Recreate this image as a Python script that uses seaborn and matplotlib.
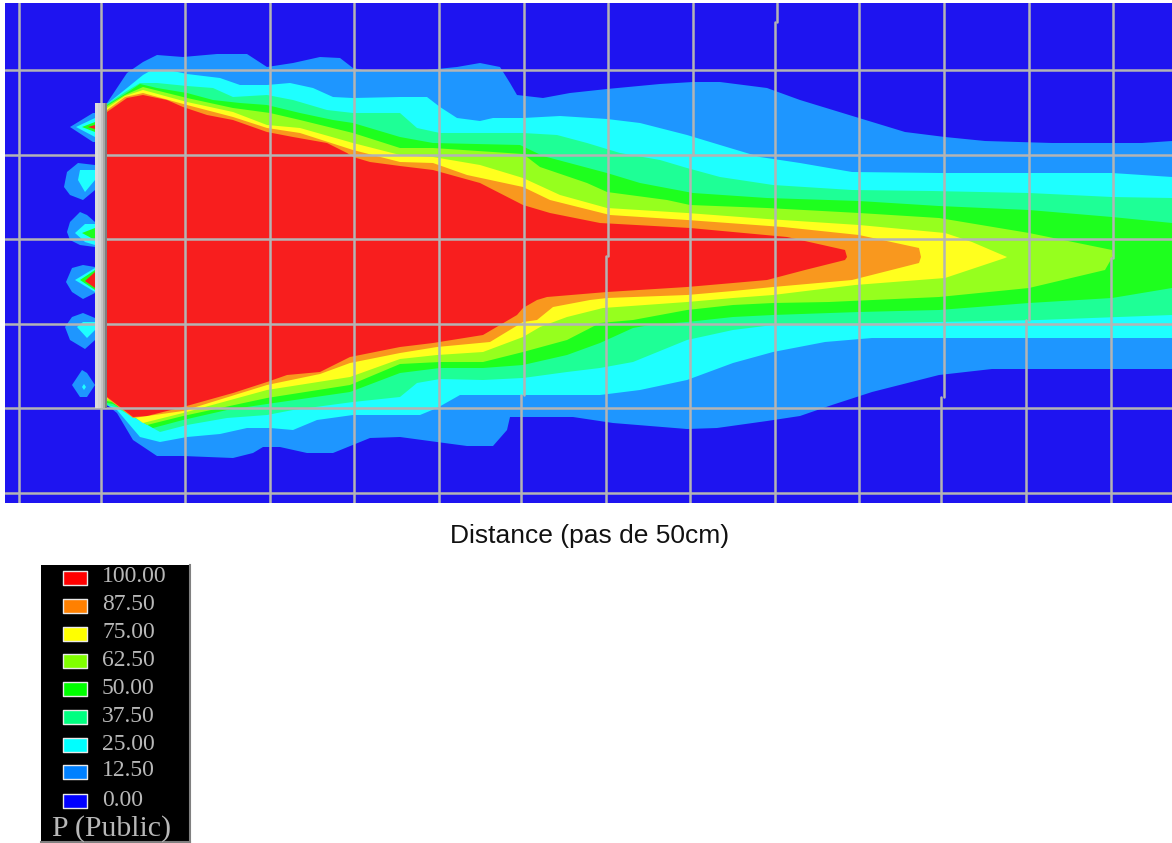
import matplotlib
matplotlib.use('Agg')
import matplotlib.pyplot as plt
from matplotlib.path import Path
import numpy as np
import seaborn as sns

# contour edges, in picture scale (84.4 units = one 50 cm step)
top_12_x = [107,127,143,157,183,217,247,267,293,320,340,353,367,400,417,457,480,500,510,517,543,570,607,660,693,720,767,800,859,905,945,985,1052,1142,1172]
top_12_y = [103,73,62,55,57,54,54,67,63,57,58,68,71,71,71,67,63,67,83,95,98,93,89,84,82,82,88,100,118,132,137,141,143,143,141]
bot_12_x = [107,117,133,157,183,233,253,263,280,307,333,370,400,437,467,493,507,510,573,613,687,717,767,800,832,872,939,992,1172]
bot_12_y = [405,413,440,456,456,458,453,447,447,453,453,438,437,442,446,446,430,417,417,423,429,428,421,416,405,392,375,369,369]

top_25_x = [107,127,143,150,173,187,220,240,267,290,313,333,353,400,427,440,457,480,493,523,560,607,640,687,720,760,800,852,939,1112,1172]
top_25_y = [104,88,75,71,71,74,78,85,85,83,88,97,98,97,97,107,118,121,118,118,116,119,123,135,145,157,163,172,173,173,177]
bot_25_x = [107,117,140,160,187,220,247,270,293,317,353,400,420,437,460,517,600,640,687,733,773,825,872,1172]
bot_25_y = [405,410,437,442,437,434,428,428,430,420,415,415,415,408,395,395,395,390,380,363,352,342,338,338]

top_37_x = [107,125,140,157,187,213,233,267,293,327,353,400,417,440,523,557,587,620,660,687,720,773,852,932,1029,1112,1172]
top_37_y = [104,92,83,83,86,88,97,95,100,110,113,113,128,133,133,135,143,153,160,168,177,185,190,191,193,197,198]
bot_37_x = [107,115,160,187,227,267,293,353,400,417,440,483,523,567,600,633,687,733,773,939,1039,1172]
bot_37_y = [405,407,432,425,418,415,410,402,397,383,379,380,378,372,368,362,340,330,325,322,320,315]

top_50_x = [107,125,140,157,187,213,240,267,300,333,353,400,433,520,543,607,640,693,767,859,939,1029,1112,1172]
top_50_y = [105,94,84,88,93,100,103,105,113,120,123,137,143,145,156,173,183,193,198,201,206,210,217,223]
bot_50_x = [107,113,153,183,227,267,350,400,440,483,523,567,600,633,650,687,733,773,859,939,1029,1112,1172]
bot_50_y = [403,404,428,420,410,404,392,373,368,368,365,355,343,328,325,322,317,315,312,310,303,298,288]

top_62_x = [107,125,143,187,233,270,300,353,400,433,523,540,587,607,667,690,767,859,939,1029,1112,1113]
top_62_y = [106,95,87,98,108,113,120,133,148,148,154,167,183,192,200,205,208,213,218,233,250,256]
bot_62_x = [107,112,147,183,267,350,400,440,483,523,567,600,633,687,733,773,829,939,1029,1105,1113]
bot_62_y = [401,402,425,416,398,385,364,362,362,352,340,323,320,310,305,303,302,297,288,270,256]

top_75_x = [107,125,143,187,233,267,300,353,400,433,480,523,560,607,687,767,859,945,972,1007]
top_75_y = [108,96,90,102,112,125,128,143,155,157,165,178,195,208,213,219,225,233,242,257]
bot_75_x = [107,110,143,183,267,350,400,437,483,523,540,567,603,687,733,773,855,945,1005,1007]
bot_75_y = [399,400,423,413,390,377,359,355,352,337,327,317,308,302,298,295,285,278,258,257]

top_87_x = [107,125,143,187,233,267,300,353,400,433,467,523,550,610,687,783,859,919,921]
top_87_y = [110,97,93,105,117,128,133,150,162,163,175,187,200,215,220,227,235,248,257]
bot_87_x = [107,133,183,267,320,350,400,437,490,523,537,553,590,607,687,733,773,852,919,921]
bot_87_y = [398,418,411,385,374,363,353,347,342,322,320,307,300,298,295,291,287,280,263,257]

top_100_x = [107,127,143,167,183,207,233,267,293,327,347,353,370,400,433,480,523,550,600,690,787,845,847]
top_100_y = [112,98,95,100,107,115,120,132,137,143,153,157,162,166,170,183,205,213,223,228,237,250,257]
bot_100_x = [107,133,147,183,233,267,287,320,350,400,433,483,517,523,537,547,607,687,733,767,805,845,847]
bot_100_y = [397,417,416,407,393,382,375,372,357,347,343,335,315,308,300,297,292,287,283,280,270,260,257]

# small cells left of the wall
cell_1_12 = ([70,93,95,95,93], [127,113,113,142,142])
cell_1_25 = ([76,95,95], [127,118,137])
cell_1_50 = ([82,95,95], [127,122,132])
cell_1_100 = ([88,95,95], [127,125,129])
cell_2_12 = ([64,67,78,95,95,83,70], [187,172,163,165,190,200,195])
cell_2_25 = ([78,80,95,95,85], [180,170,170,180,192])
cell_3_12 = ([67,70,80,87,95,95,80,70], [232,222,212,215,222,247,245,240])
cell_3_25 = ([75,85,95,95,85], [233,224,224,245,242])
cell_3_50 = ([82,95,95], [233,228,240])
cell_4_12 = ([66,72,83,95,95,83,72], [282,268,265,267,293,299,292])
cell_4_25 = ([75,95,95], [280,268,292])
cell_4_50 = ([80,95,95], [280,270,290])
cell_4_100 = ([85,95,95], [281,272,288])
cell_5_12 = ([65,72,83,95,95,85,70], [327,317,313,318,340,349,340])
cell_5_25 = ([77,83,95,95,87], [327,322,322,330,338])
cell_6_12 = ([72,82,87,95,87,80], [385,370,373,385,397,397])
cell_6_25 = ([82,84,86,84], [387,384,387,390])

# grid segments: x, y start, y end
grid_v = [(19,3,503),(101,3,503),(185,3,503),(270,3,503),(354,3,503),(439,3,503),
          (524,3,395),(521,395,503),(608,3,256),(606,256,503),(693,3,155),(690,155,503),
          (777,3,22),(775,22,503),(859,3,503),(944,3,397),(941,397,503),
          (1029,3,320),(1026,320,503),(1113,3,258),(1111,258,503)]
grid_h = [70,155,239,324,408,493]

wall_x = [95,98,101,103,105,107]
wall_colors = ['#dcdcdc','#d4d4d4','#c4c4c4','#a8a8a8','#808080']
wall_top = 103
wall_bottom = 408

levels = ['100.00','87.50','75.00','62.50','50.00','37.50','25.00','12.50','0.00']
map_colors = ['#f81e1e','#f9981e','#ffff1e','#96ff1e','#1eff1e','#1eff96','#1effff','#1e96ff','#1e14f0']
legend_colors = ['#ff0000','#ff8000','#ffff00','#80ff00','#00ff00','#00ff80','#00ffff','#0080ff','#0000ff']
legend_y = [578,606,634,661,689,717,745,772,801]

sns.set_theme(style='white')
fig = plt.figure(figsize=(11.72,8.43), dpi=100)
W, H = 1172.0, 843.0

ax = fig.add_axes([5/W, 1-503/H, (W-5)/W, 500/H])
ax.set_xlim(5,1172)
ax.set_ylim(503,3)
ax.axis('off')
ax.add_patch(plt.Rectangle((5,3),1167,500,color=map_colors[8],zorder=0))

bands = [(top_12_x,top_12_y,bot_12_x,bot_12_y,7),
         (top_25_x,top_25_y,bot_25_x,bot_25_y,6),
         (top_37_x,top_37_y,bot_37_x,bot_37_y,5),
         (top_50_x,top_50_y,bot_50_x,bot_50_y,4),
         (top_62_x,top_62_y,bot_62_x,bot_62_y,3),
         (top_75_x,top_75_y,bot_75_x,bot_75_y,2),
         (top_87_x,top_87_y,bot_87_x,bot_87_y,1),
         (top_100_x,top_100_y,bot_100_x,bot_100_y,0)]
for tx,ty,bx,by,lev in bands:
    ax.fill(tx+bx[::-1], ty+by[::-1], color=map_colors[lev], lw=0, zorder=1)

cells = [(cell_1_12,7),(cell_1_25,6),(cell_1_50,4),(cell_1_100,0),
         (cell_2_12,7),(cell_2_25,6),
         (cell_3_12,7),(cell_3_25,6),(cell_3_50,4),
         (cell_4_12,7),(cell_4_25,6),(cell_4_50,4),(cell_4_100,0),
         (cell_5_12,7),(cell_5_25,6),
         (cell_6_12,7),(cell_6_25,6)]
for c,lev in cells:
    ax.fill(c[0], c[1], color=map_colors[lev], lw=0, zorder=1)

grid_col = '#b4b4b4'
for x,y0,y1 in grid_v:
    sns.lineplot(x=[x,x], y=[y0,y1], color=grid_col, lw=1.8, ax=ax, sort=False, estimator=None, zorder=2)
for y in grid_h:
    sns.lineplot(x=[5,1172], y=[y,y], color=grid_col, lw=1.8, ax=ax, sort=False, estimator=None, zorder=2)

for i,c in enumerate(wall_colors):
    ax.fill_between([wall_x[i],wall_x[i+1]], wall_top, wall_bottom, color=c, lw=0, zorder=3)

ax.set_xlim(5,1172)
ax.set_ylim(503,3)
ax.set(xlabel='', ylabel='')

fig.text(590/W, 1-536/H, 'Distance (pas de 50cm)', family='Liberation Sans', fontsize=19,
         color='#111111', ha='center', va='center')

# legend box
lax = fig.add_axes([41/W, 1-842/H, 149/W, 277/H])
lax.set_facecolor('black')
swatch = Path([(-1,-0.62),(1,-0.62),(1,0.62),(-1,0.62),(-1,-0.62)], closed=True)
sns.scatterplot(x=[75]*len(levels), y=legend_y, hue=levels, hue_order=levels,
                palette=legend_colors, marker=swatch, s=300, edgecolor='#e8e8e8', linewidth=1,
                legend=False, ax=lax)
lax.set_xlim(41,190)
lax.set_ylim(842,565)
lax.set(xticks=[], yticks=[], xlabel='', ylabel='')
for s in ['top','left']:
    lax.spines[s].set_visible(False)
for s in ['right','bottom']:
    lax.spines[s].set_color('#808080')
    lax.spines[s].set_linewidth(1.5)
for lab,y in zip(levels,legend_y):
    lax.text(102, y-1, lab, family='Liberation Serif', fontsize=17, color='#b8b8b8', va='center', ha='left')
lax.text(52, 829, 'P (Public)', family='Liberation Serif', fontsize=21.5, color='#b8b8b8', va='center', ha='left')

fig.savefig('out.png', dpi=100, facecolor='white')
